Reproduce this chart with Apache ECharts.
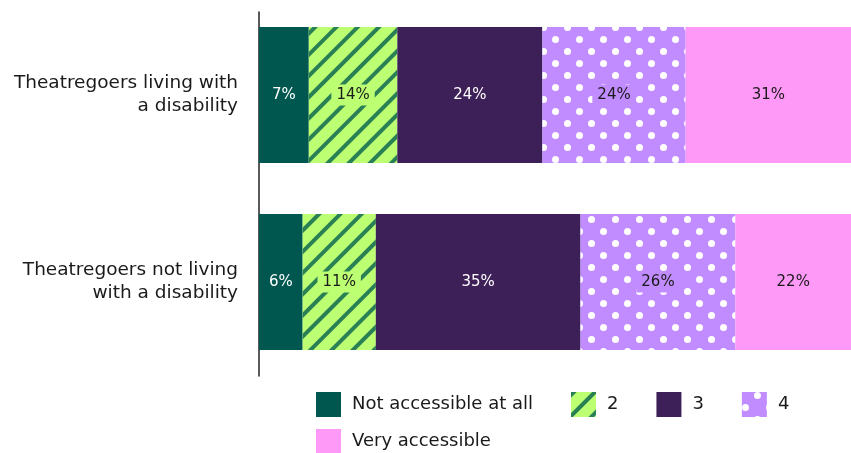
<!DOCTYPE html>
<html lang="en">
<head>
    <meta charset="UTF-8">
    <title>Theatre accessibility</title>
    <script type="text/javascript" src="https://cdn.jsdelivr.net/npm/echarts@6/dist/echarts.min.js"></script>
    <style>
        html, body { margin: 0; padding: 0; background: #fff; }
        #main { width: 851px; height: 453px; }
    </style>
</head>
<body>
<div id="main"></div>
<script type="text/javascript">
    // categories (top to bottom)
    var categories = ['Theatregoers living with\na disability', 'Theatregoers not living\nwith a disability'];
    var seriesNames = ['Not accessible at all', '2', '3', '4', 'Very accessible'];

    // bar lengths (% of respondents)
    var notAccessible = [8.1, 7.1];
    var level2 = [14.4, 11.9];
    var level3 = [23.6, 33.3];
    var level4 = [23.3, 25.2];
    var veryAccessible = [30.6, 22.5];

    // percentages printed on the bars
    var notAccessibleText = [7, 6];
    var level2Text = [14, 11];
    var level3Text = [24, 35];
    var level4Text = [24, 26];
    var veryAccessibleText = [31, 22];

    var values = [notAccessible, level2, level3, level4, veryAccessible];
    var texts = [notAccessibleText, level2Text, level3Text, level4Text, veryAccessibleText];
    var colors = ['#00574f', '#bdff72', '#3e2058', '#c18cff', '#ff99f7'];
    var labelColors = ['#ffffff', '#1a1a1a', '#ffffff', '#1a1a1a', '#1a1a1a'];
    var decals = [
        null,
        // diagonal stripes
        {symbol: 'rect', symbolSize: 1, color: '#2a8055', dashArrayX: [1, 0], dashArrayY: [4, 11], rotation: -Math.PI / 4},
        null,
        // staggered white dots
        {symbol: 'circle', symbolSize: 1, color: '#ffffff', dashArrayX: [[7, 17], [0, 12, 7, 5]], dashArrayY: [7, 5], rotation: 0},
        null
    ];

    var font = 'DejaVu Sans';
    var series = [];
    for (var i = 0; i < seriesNames.length; i++) {
        (function (i) {
            var itemStyle = {color: colors[i]};
            if (decals[i]) itemStyle.decal = decals[i];
            series.push({
                name: seriesNames[i],
                type: 'bar',
                stack: 'all',
                xAxisIndex: 0,
                yAxisIndex: 0,
                barWidth: 136,
                data: values[i],
                itemStyle: itemStyle,
                emphasis: {disabled: true},
                label: {
                    show: true,
                    position: 'inside',
                    color: labelColors[i],
                    fontFamily: font,
                    fontSize: 15,
                    backgroundColor: colors[i],
                    padding: [3, 5],
                    formatter: function (p) {
                        return texts[i][p.dataIndex] + '%';
                    }
                }
            });
        })(i);
    }

    var myChart = echarts.init(document.getElementById('main'), null, {renderer: 'canvas'});
    myChart.setOption({
        animation: false,
        grid: [
            {left: 259, right: 0, top: 1.5, bottom: 77.5},
            // only used for the vertical axis line
            {left: 259, right: 0, top: 12, bottom: 77}
        ],
        xAxis: [
            {type: 'value', gridIndex: 0, min: 0, max: 96.3, show: false},
            {type: 'value', gridIndex: 1, min: 0, max: 1, show: false}
        ],
        yAxis: [
            {
                type: 'category',
                gridIndex: 0,
                inverse: true,
                data: categories,
                axisLine: {show: false},
                axisTick: {show: false},
                axisLabel: {
                    margin: 21,
                    color: '#1a1a1a',
                    fontFamily: font,
                    fontSize: 18.5,
                    lineHeight: 23,
                    align: 'right'
                }
            },
            {
                type: 'value',
                gridIndex: 1,
                min: 0,
                max: 1,
                axisLine: {show: true, onZero: false, lineStyle: {color: '#222', width: 1.5}},
                axisTick: {show: false},
                axisLabel: {show: false},
                splitLine: {show: false}
            }
        ],
        legend: [
            {
                data: seriesNames.slice(0, 4),
                left: 316,
                top: 392,
                padding: 0,
                icon: 'rect',
                itemWidth: 25,
                itemHeight: 25,
                itemGap: 38,
                selectedMode: false,
                textStyle: {color: '#1a1a1a', fontFamily: font, fontSize: 18, padding: [0, 0, 0, 6]}
            },
            {
                data: seriesNames.slice(4),
                left: 316,
                top: 429,
                padding: 0,
                icon: 'rect',
                itemWidth: 25,
                itemHeight: 25,
                selectedMode: false,
                textStyle: {color: '#1a1a1a', fontFamily: font, fontSize: 18, padding: [0, 0, 0, 6]}
            }
        ],
        series: series
    });
</script>
</body>
</html>
